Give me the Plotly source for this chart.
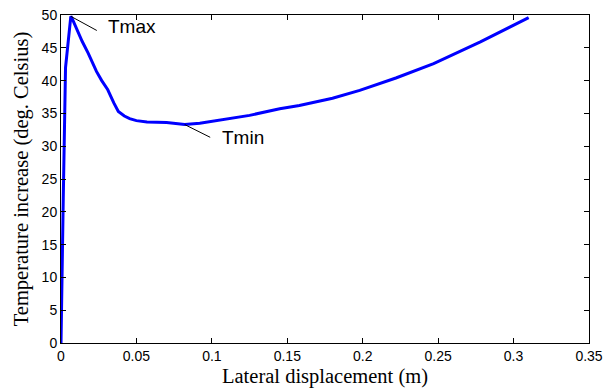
import plotly.graph_objects as go

# Data
x_disp = [0.0, 0.0005, 0.0015, 0.003, 0.0065, 0.0075, 0.0105, 0.014, 0.018,
          0.0235, 0.027, 0.031, 0.035, 0.038, 0.042, 0.0455, 0.05, 0.057,
          0.070, 0.082, 0.092, 0.103, 0.115, 0.125, 0.145, 0.158, 0.18,
          0.198, 0.222, 0.247, 0.278, 0.295, 0.31]
temp_inc = [0.0, 10.0, 22.0, 42.0, 49.8, 49.4, 47.7, 46.0, 44.2,
            41.4, 40.0, 38.6, 36.6, 35.3, 34.6, 34.2, 33.9, 33.7,
            33.6, 33.3, 33.5, 33.9, 34.3, 34.7, 35.7, 36.2, 37.3,
            38.5, 40.4, 42.6, 45.9, 47.8, 49.6]
x_ticks = [0, 0.05, 0.1, 0.15, 0.2, 0.25, 0.3, 0.35]
x_tick_text = ["0", "0.05", "0.1", "0.15", "0.2", "0.25", "0.3", "0.35"]
y_ticks = [0, 5, 10, 15, 20, 25, 30, 35, 40, 45, 50]

# locate Tmax and Tmin from the data
i_max = max(range(len(temp_inc)), key=lambda i: temp_inc[i])
i_min = min(range(i_max, len(temp_inc)), key=lambda i: temp_inc[i])

fig = go.Figure()
fig.add_trace(go.Scatter(x=x_disp, y=temp_inc, mode="lines",
                         line=dict(color="#0000FF", width=3),
                         showlegend=False, hoverinfo="skip"))

sans = "Liberation Sans, Arial, sans-serif"
serif = "Liberation Serif, Times New Roman, serif"

for idx, label, ax, ay, xs, ys in [(i_max, "Tmax", 27.5, 15, 35, -10.5),
                                   (i_min, "Tmin", 27, 13.5, 35, -12.5)]:
    fig.add_annotation(x=x_disp[idx], y=temp_inc[idx], xref="x", yref="y",
                       text="", showarrow=True, arrowhead=0, arrowwidth=1,
                       arrowcolor="black", ax=ax, ay=ay, standoff=0,
                       startstandoff=0)
    fig.add_annotation(x=x_disp[idx], y=temp_inc[idx], xref="x", yref="y",
                       text=label, showarrow=False, xanchor="left",
                       yanchor="middle", xshift=xs, yshift=ys,
                       font=dict(family=sans, size=19, color="black"))

axis_common = dict(showline=True, linecolor="black", linewidth=1,
                   mirror="ticks", ticks="inside", ticklen=5,
                   tickcolor="black", showgrid=False, zeroline=False,
                   automargin=False,
                   tickfont=dict(family=sans, size=14, color="black"))

fig.update_xaxes(range=[0, 0.35], tickvals=x_ticks, ticktext=x_tick_text,
                 title=dict(text="Lateral displacement (m)", standoff=5,
                            font=dict(family=serif, size=20.5, color="black")),
                 **axis_common)
fig.update_yaxes(range=[0, 50], tickvals=y_ticks,
                 title=dict(text="Temperature increase (deg. Celsius)", standoff=7,
                            font=dict(family=serif, size=20.5, color="black")),
                 **axis_common)

fig.update_layout(width=605, height=390,
                  margin=dict(l=61, r=16, t=15, b=47),
                  plot_bgcolor="white", paper_bgcolor="white")

fig.write_html("out.html", config={"displayModeBar": False, "staticPlot": True},
               post_script="document.body.style.margin='0';"
                           "document.body.style.overflow='hidden';")
